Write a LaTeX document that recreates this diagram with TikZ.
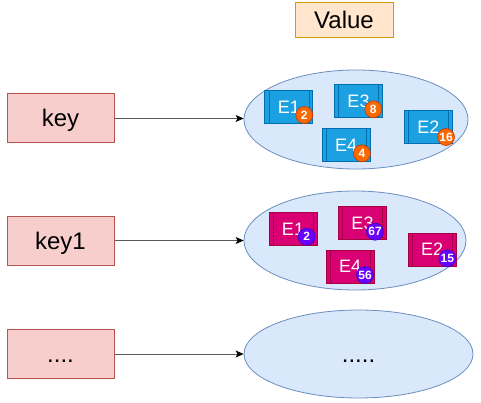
\documentclass[tikz,border=0pt]{standalone}
\usepackage{fontspec}
\setmainfont{Liberation Sans}
\usepackage{tikz}
\usepackage{xcolor}
\usetikzlibrary{shapes, arrows.meta}

\definecolor{keyfill}{HTML}{F8CECC}
\definecolor{keyline}{HTML}{B85450}
\definecolor{valfill}{HTML}{FFE6CC}
\definecolor{valline}{HTML}{D79B00}
\definecolor{setfill}{HTML}{DAE8FC}
\definecolor{setline}{HTML}{6C8EBF}
\definecolor{bluefill}{HTML}{1BA1E2}
\definecolor{blueline}{HTML}{006EAF}
\definecolor{magfill}{HTML}{D80073}
\definecolor{magline}{HTML}{A50040}
\definecolor{orangefill}{HTML}{FA6800}
\definecolor{orangeline}{HTML}{C73500}
\definecolor{purplefill}{HTML}{6A00FF}
\definecolor{purpleline}{HTML}{3700CC}

\begin{document}
\begin{tikzpicture}[x=1pt, y=-1pt,
        keybox/.style={rectangle, draw=keyline, fill=keyfill, line width=1pt, minimum width=107pt, minimum height=49pt, text height=17pt, text depth=0pt, font=\fontsize{24}{28}\selectfont},
        setell/.style={ellipse, draw=setline, fill=setfill, line width=0.8pt, inner sep=0pt},
        elem/.style 2 args={rectangle, fill=#1, draw=#2, line width=0.8pt, minimum width=48pt, minimum height=33pt, inner sep=0pt, text=white, font=\fontsize{18}{20}\selectfont,
            path picture={\draw[#2, line width=0.6pt] ([xshift=4pt]path picture bounding box.north west) -- ([xshift=4pt]path picture bounding box.south west)
                ([xshift=-4pt]path picture bounding box.north east) -- ([xshift=-4pt]path picture bounding box.south east);}},
        badge/.style 2 args={circle, fill=#1, draw=#2, line width=0.6pt, minimum size=17pt, inner sep=0pt, text=white, font=\fontsize{12}{13}\selectfont\bfseries},
        link/.style={draw=black!65, line width=0.9pt, -{Stealth[length=8pt, width=7pt, inset=2pt, fill=black, color=black]}}]
        \useasboundingbox (0, 0) rectangle (481, 403);

        \node[rectangle, draw=valline, fill=valfill, line width=1pt, minimum width=98pt, minimum height=35pt, text height=17pt, text depth=0pt, font=\fontsize{24}{28}\selectfont] (val) at (344, 20.5) {Value};

        \node[keybox] (k1) at (60.5, 118.5) {key};
        \node[keybox] (k2) at (60.5, 240.5) {key1};
        \node[keybox] (k3) at (60.5, 354) {....};

        \node[setell, minimum width=224pt, minimum height=99pt] (v1) at (356, 119.5) {};
        \node[setell, minimum width=222pt, minimum height=99pt] (v2) at (355, 240.5) {};
        \node[setell, minimum width=229pt, minimum height=88pt, text height=17pt, text depth=0pt, font=\fontsize{24}{28}\selectfont] (v3) at (358.5, 354) {.....};

        \draw[link] (k1) -- (k1 -| v1.west);
        \draw[link] (k2) -- (v2);
        \draw[link] (k3) -- (v3);

        % first value set
        \node[elem={bluefill}{blueline}] (a1) at (288.8, 107.2) {E1};
        \node[elem={bluefill}{blueline}] (a3) at (358.5, 101.2) {E3};
        \node[elem={bluefill}{blueline}] (a4) at (346.2, 145.3) {E4};
        \node[elem={bluefill}{blueline}] (a2) at (428.3, 127.2) {E2};
        \node[badge={orangefill}{orangeline}] (a1n) at (304.3, 115) {2};
        \node[badge={orangefill}{orangeline}] (a3n) at (373.3, 109.3) {8};
        \node[badge={orangefill}{orangeline}] (a4n) at (362, 153.3) {4};
        \node[badge={orangefill}{orangeline}] (a2n) at (446, 137) {16};

        % second value set
        \node[elem={magfill}{magline}] (b1) at (293, 229.3) {E1};
        \node[elem={magfill}{magline}] (b3) at (362.5, 223) {E3};
        \node[elem={magfill}{magline}] (b4) at (350.2, 266.8) {E4};
        \node[elem={magfill}{magline}] (b2) at (432.2, 249.5) {E2};
        \node[badge={purplefill}{purpleline}] (b1n) at (306.7, 236.7) {2};
        \node[badge={purplefill}{purpleline}] (b3n) at (375, 231.7) {67};
        \node[badge={purplefill}{purpleline}] (b4n) at (365, 275) {56};
        \node[badge={purplefill}{purpleline}] (b2n) at (447.3, 258.3) {15};
\end{tikzpicture}
\end{document}
